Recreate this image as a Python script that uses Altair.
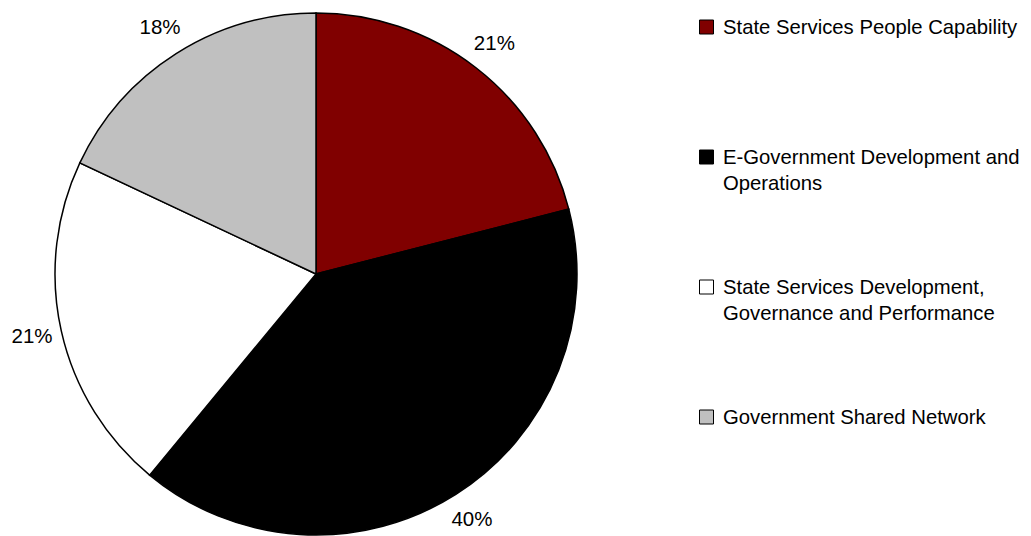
import altair as alt
import pandas as pd

categories = [
    "State Services People Capability",
    "E-Government Development and Operations",
    "State Services Development, Governance and Performance",
    "Government Shared Network",
]
values = [21, 40, 21, 18]
pct_labels = ["21%", "40%", "21%", "18%"]
legend_labels = [
    "State Services People Capability",
    "E-Government Development and\nOperations",
    "State Services Development,\nGovernance and Performance",
    "Government Shared Network",
]
colors = ["#800000", "#000000", "#ffffff", "#c0c0c0"]

FONT = "Liberation Sans"

df = pd.DataFrame({
    "category": categories,
    "value": values,
    "label": pct_labels,
    "order": list(range(len(categories))),
    "legend": legend_labels,
})

color_scale = alt.Scale(domain=categories, range=colors)
cx, cy = 308, 266

base = alt.Chart(df).encode(
    theta=alt.Theta("value:Q", stack=True),
    order=alt.Order("order:Q"),
)

arcs = base.mark_arc(radius=261, stroke="#000000", strokeWidth=1.5).encode(
    color=alt.Color("category:N", scale=color_scale, legend=None),
    x=alt.value(cx),
    y=alt.value(cy),
)

pct = base.mark_text(radius=291, fontSize=20.5, font=FONT, color="#000000",
                     align="center", baseline="middle").encode(
    text="label:N",
    x=alt.value(cx),
    y=alt.value(cy),
)

ly = alt.Y("order:Q", scale=alt.Scale(domain=[0, 3], range=[19, 409]), axis=None)

leg_sq = alt.Chart(df).mark_square(size=196, stroke="#000000", strokeWidth=1,
                                   opacity=1).encode(
    x=alt.value(698.5),
    y=ly,
    fill=alt.Fill("category:N", scale=color_scale, legend=None),
)

leg_txt = alt.Chart(df).mark_text(align="left", baseline="alphabetic", dy=7,
                                  fontSize=20.3, font=FONT, color="#000000",
                                  lineBreak="\n", lineHeight=26).encode(
    x=alt.value(715),
    y=ly,
    text="legend:N",
)

chart = alt.layer(arcs, pct, leg_sq, leg_txt).properties(
    width=1015,
    height=528,
    padding=0,
    autosize=alt.AutoSizeParams(type="none"),
).configure_view(stroke=None)

chart.save("out.html", embed_options={"renderer": "svg", "actions": False})
